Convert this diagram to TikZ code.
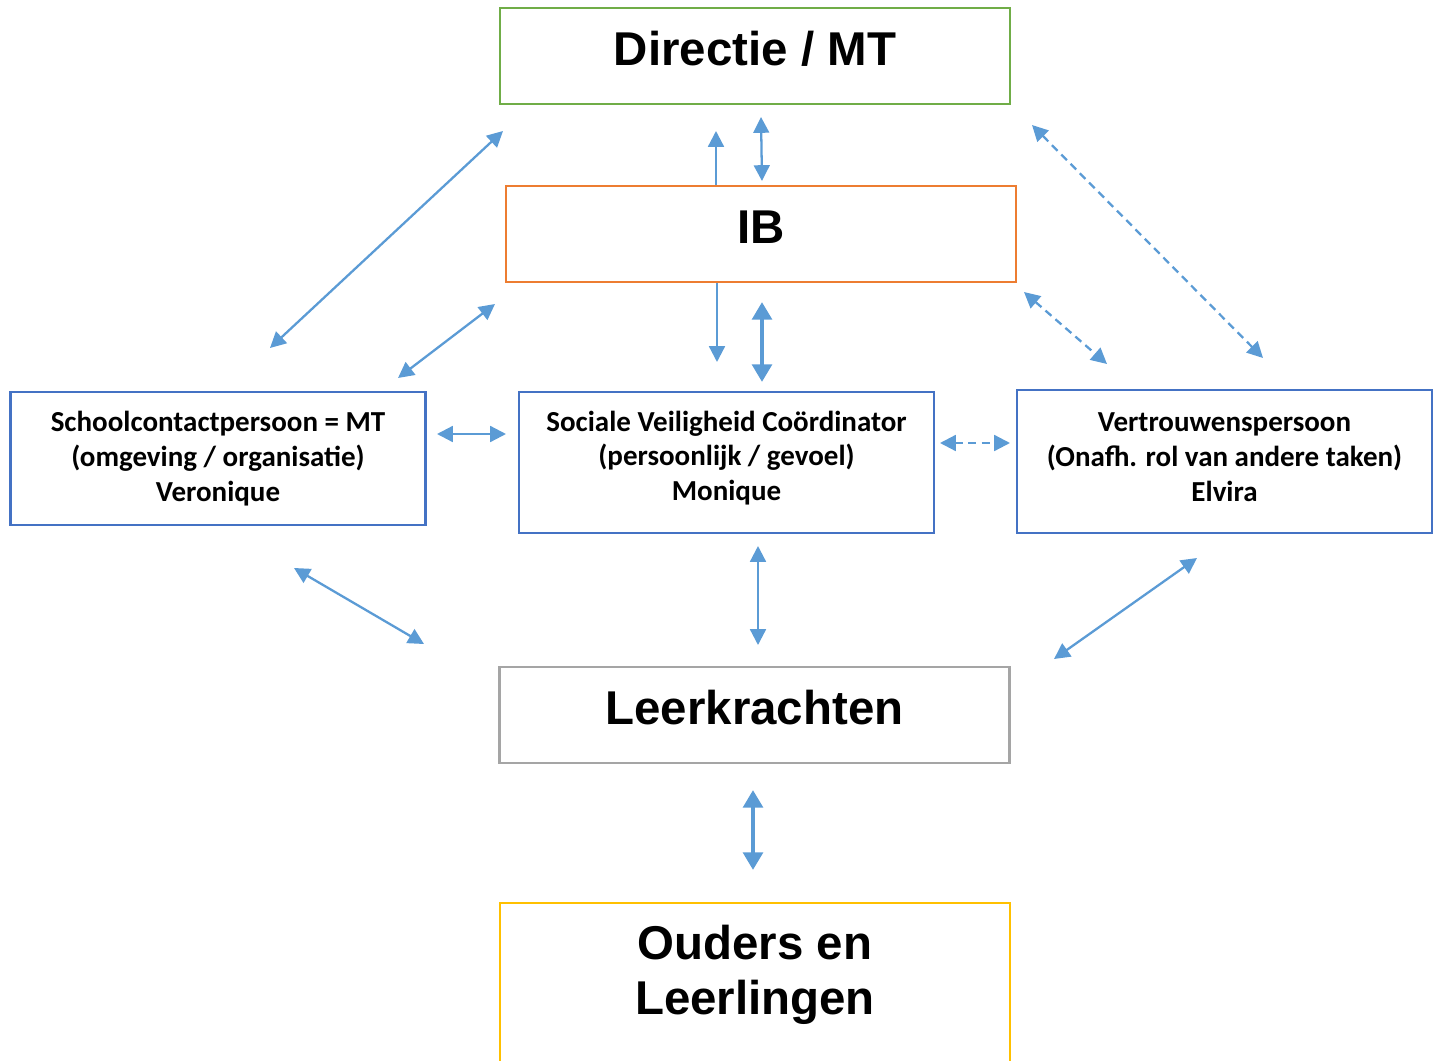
\documentclass[tikz,border=0pt]{standalone}
\usepackage{fontspec}
\setmainfont{Liberation Sans}
\newfontfamily\calibri{Carlito Bold}
\usetikzlibrary{arrows.meta}

\definecolor{groen}{HTML}{70AD47}
\definecolor{oranje}{HTML}{ED7D31}
\definecolor{kaderblauw}{HTML}{4472C4}
\definecolor{grijs}{HTML}{A5A5A5}
\definecolor{geel}{HTML}{FFC000}
\definecolor{pijlblauw}{HTML}{5B9BD5}

\begin{document}
\begin{tikzpicture}[x=0.02cm, y=-0.02cm,
		groot/.style={draw, line width=1.4pt, inner sep=0pt, minimum width=10.2cm, minimum height=1.92cm,
			font=\bfseries\fontsize{27}{31}\selectfont, text height=19.5pt, text depth=9pt},
		klein/.style={draw=kaderblauw, line width=1.4pt, inner sep=0pt, minimum width=8.3cm},
		tekst/.style={align=center, inner sep=0pt, font=\calibri\fontsize{16.5}{19.8}\selectfont},
		pijl/.style={pijlblauw, line width=1.3pt, {Triangle[length=9pt,width=9pt]}-{Triangle[length=9pt,width=9pt]}},
		enkel/.style={pijlblauw, line width=1.3pt, -{Triangle[length=9pt,width=9pt]}},
		dik/.style={pijlblauw, line width=2.6pt, {Triangle[length=10pt,width=11pt]}-{Triangle[length=10pt,width=11pt]}},
		stip/.style={pijl, dash pattern=on 4.5pt off 3pt}]
		
		\clip (0,0) rectangle (1440,1061);
		
		%
		\node[groot, draw=groen] (dir) at (755,56) {Directie / MT};
		\node[groot, draw=oranje] (ib) at (761,234) {IB};
		\node[groot, draw=grijs] (leer) at (754.5,715) {Leerkrachten};
		
		\node[klein, minimum height=2.66cm] (school) at (218,458.5) {};
		\node[klein, minimum height=2.82cm] (svc) at (726.5,462.5) {};
		\node[klein, minimum height=2.86cm] (vtp) at (1224.5,461.5) {};
		
		\node[tekst] (schooltxt) at (school.center) {Schoolcontactpersoon = MT\\(omgeving / organisatie)\\Veronique};
		\node[tekst] (svctxt) at ([yshift=2.6pt]svc.center) {Sociale Veiligheid Coördinator\\(persoonlijk / gevoel)\\Monique};
		\node[tekst] (vtptxt) at ([yshift=2.6pt]vtp.center) {Vertrouwenspersoon\\(Onafh. rol van andere taken)\\Elvira};
		
		\node[align=center, font=\bfseries\fontsize{27}{31}\selectfont] (ouders) at (755,975) {Ouders en\\Leerlingen};
		\draw[geel, line width=1.4pt] (500,1080) |- (1010,903) -- (1010,1080);
		
		
		%
		\foreach \n/\xa/\ya/\xb/\yb in {1/503/131/270/348, 2/761/117/762/181, 3/1032/125/1263/358,
			4/762/302/762/382, 5/1024/292/1107/364, 6/495/304/398/378, 7/437/434/506/434,
			8/940/443/1010/443, 9/294/568/424/644, 10/758/546/758/645, 11/1197/558/1054/659,
			12/753/790/753/870} {
			\coordinate (P\n) at (\xa,\ya);
			\coordinate (Q\n) at (\xb,\yb);
		}
		\coordinate (U) at (716,131);
		\coordinate (D) at (717,362);
		
		\draw[pijl] (P1) -- (Q1);
		\draw[enkel] (ib.north -| U) -- (U);
		\draw[pijl] (P2) -- (Q2);
		\draw[stip] (P3) -- (Q3);
		\draw[enkel] (ib.south -| D) -- (D);
		\draw[dik] (P4) -- (Q4);
		\draw[stip] (P5) -- (Q5);
		\draw[pijl] (P6) -- (Q6);
		\draw[pijl] (P7) -- (Q7);
		\draw[stip] (P8) -- (Q8);
		\draw[pijl] (P9) -- (Q9);
		\draw[pijl] (P10) -- (Q10);
		\draw[pijl] (P11) -- (Q11);
		\draw[dik] (P12) -- (Q12);
		
	\end{tikzpicture}
\end{document}
